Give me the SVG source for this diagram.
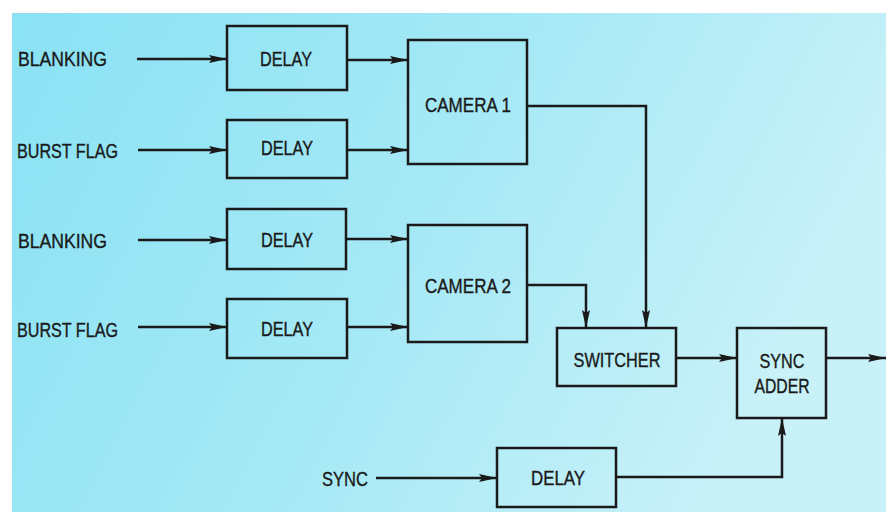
<svg xmlns="http://www.w3.org/2000/svg" width="896" height="512" viewBox="0 0 896 512">
<defs>
<linearGradient id="bg" x1="0" y1="0" x2="1" y2="0.3">
<stop offset="0" stop-color="#8ae2f4"/>
<stop offset="0.55" stop-color="#a6e9f6"/>
<stop offset="1" stop-color="#c8f1f8"/>
</linearGradient>
<marker id="ah" viewBox="0 0 18 8" refX="18" refY="4" markerWidth="18" markerHeight="8" markerUnits="userSpaceOnUse" orient="auto">
<path d="M0,0 L18,4 L0,8 L3,4 Z" fill="#1a1a1a"/>
</marker>
<style>
.box{fill:none;stroke:#1a1a1a;stroke-width:2.5}
.lbl{font-family:"Liberation Sans",Arial,sans-serif;font-size:19.5px;fill:#1a1a1a;stroke:#1a1a1a;stroke-width:0.35;text-anchor:middle;dominant-baseline:central}
.in{font-family:"Liberation Sans",Arial,sans-serif;font-size:19.5px;fill:#1a1a1a;stroke:#1a1a1a;stroke-width:0.35;dominant-baseline:central}
.wire{fill:none;stroke:#1a1a1a;stroke-width:2.5}
.arr{marker-end:url(#ah)}
</style>
</defs>
<rect x="0" y="0" width="896" height="512" fill="#ffffff"/>
<rect x="12" y="13" width="874" height="499" fill="url(#bg)"/>

<g id="in-blanking1"><text class="in" x="18" y="59" textLength="89" lengthAdjust="spacingAndGlyphs">BLANKING</text></g>
<g id="in-burst1"><text class="in" x="17" y="151" textLength="101" lengthAdjust="spacingAndGlyphs">BURST FLAG</text></g>
<g id="in-blanking2"><text class="in" x="18" y="241" textLength="89" lengthAdjust="spacingAndGlyphs">BLANKING</text></g>
<g id="in-burst2"><text class="in" x="17" y="330" textLength="101" lengthAdjust="spacingAndGlyphs">BURST FLAG</text></g>
<g id="in-sync"><text class="in" x="322" y="479" textLength="46" lengthAdjust="spacingAndGlyphs">SYNC</text></g>

<g id="delay1"><rect class="box" x="227" y="26" width="120" height="64"/><text class="lbl" x="286" y="59" textLength="52" lengthAdjust="spacingAndGlyphs">DELAY</text></g>
<g id="delay2"><rect class="box" x="227" y="120" width="120" height="58"/><text class="lbl" x="287" y="148" textLength="52" lengthAdjust="spacingAndGlyphs">DELAY</text></g>
<g id="delay3"><rect class="box" x="227" y="209" width="119" height="60"/><text class="lbl" x="287" y="240" textLength="52" lengthAdjust="spacingAndGlyphs">DELAY</text></g>
<g id="delay4"><rect class="box" x="227" y="299" width="120" height="59"/><text class="lbl" x="287" y="329" textLength="52" lengthAdjust="spacingAndGlyphs">DELAY</text></g>
<g id="camera1"><rect class="box" x="408" y="40" width="119" height="124"/><text class="lbl" x="468" y="105" textLength="86" lengthAdjust="spacingAndGlyphs">CAMERA 1</text></g>
<g id="camera2"><rect class="box" x="408" y="225" width="119" height="117"/><text class="lbl" x="468" y="286" textLength="86" lengthAdjust="spacingAndGlyphs">CAMERA 2</text></g>
<g id="switcher"><rect class="box" x="557" y="328" width="119" height="58"/><text class="lbl" x="617" y="360" textLength="87" lengthAdjust="spacingAndGlyphs">SWITCHER</text></g>
<g id="syncadder"><rect class="box" x="737" y="328" width="89" height="90"/><text class="lbl" x="782" y="361" textLength="45" lengthAdjust="spacingAndGlyphs">SYNC</text><text class="lbl" x="782" y="386" textLength="55" lengthAdjust="spacingAndGlyphs">ADDER</text></g>
<g id="delay5"><rect class="box" x="497" y="448" width="119" height="59"/><text class="lbl" x="558" y="478" textLength="54" lengthAdjust="spacingAndGlyphs">DELAY</text></g>

<g id="connectors">
<path class="wire arr" d="M137,59 H227"/>
<path class="wire arr" d="M347,60 H408"/>
<path class="wire arr" d="M138,150 H227"/>
<path class="wire arr" d="M347,150 H408"/>
<path class="wire arr" d="M138,240 H227"/>
<path class="wire arr" d="M347,239 H408"/>
<path class="wire arr" d="M138,327 H227"/>
<path class="wire arr" d="M347,327 H408"/>
<path class="wire arr" d="M527,106 H646 V328"/>
<path class="wire arr" d="M527,285 H586 V328"/>
<path class="wire arr" d="M676,358 H737"/>
<path class="wire arr" d="M826,358 H886"/>
<path class="wire arr" d="M376,478 H497"/>
<path class="wire arr" d="M616,477 H782 V418"/>
</g>
</svg>
